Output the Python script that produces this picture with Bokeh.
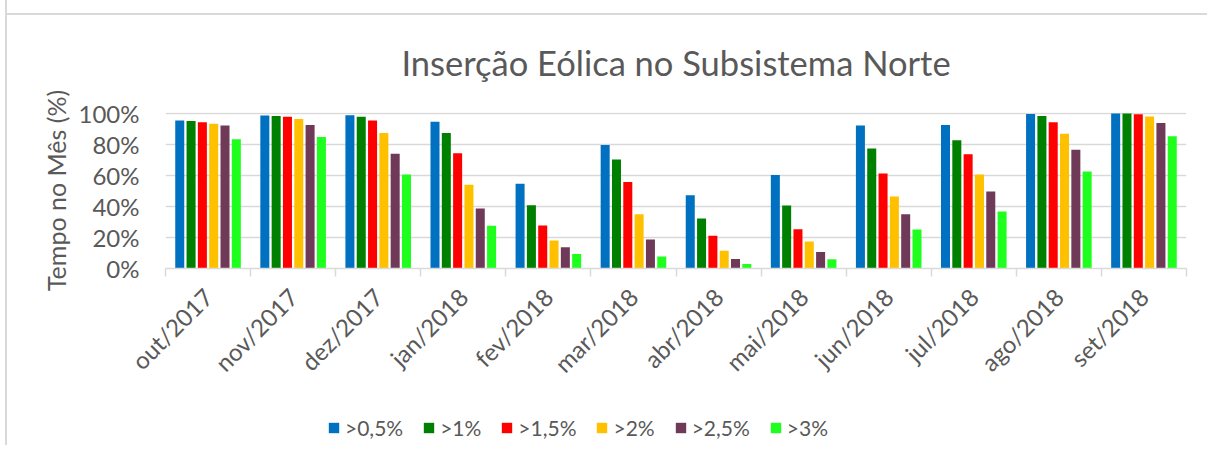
import numpy as np
from bokeh.plotting import figure
from bokeh.layouts import column
from bokeh.models import (ColumnDataSource, FixedTicker, NumeralTickFormatter,
                          Legend, LegendItem, Range1d)
from bokeh.transform import dodge
from bokeh.embed import file_html
from bokeh.resources import INLINE

months = ["out/2017", "nov/2017", "dez/2017", "jan/2018", "fev/2018", "mar/2018",
          "abr/2018", "mai/2018", "jun/2018", "jul/2018", "ago/2018", "set/2018"]
series_names = [">0,5%", ">1%", ">1,5%", ">2%", ">2,5%", ">3%"]
s_05 = [95.3, 98.5, 98.7, 94.4, 54.6, 79.5, 47.1, 60.1, 92.1, 92.3, 99.4, 99.8]
s_10 = [94.9, 98.1, 97.7, 87.2, 40.7, 70.1, 32.2, 40.5, 77.2, 82.5, 98.1, 99.8]
s_15 = [94.2, 97.7, 95.3, 74.2, 27.7, 55.7, 21.1, 25.3, 61.2, 73.6, 94.1, 99.2]
s_20 = [93.2, 96.2, 87.2, 53.9, 18.1, 34.9, 11.5, 17.3, 46.3, 60.5, 86.8, 97.9]
s_25 = [92.1, 92.3, 73.8, 38.6, 13.6, 18.6, 6.1, 10.6, 34.9, 49.5, 76.5, 93.6]
s_30 = [83.2, 84.6, 60.5, 27.5, 9.3, 7.7, 2.9, 6.0, 25.1, 36.7, 62.4, 85.1]
colors = ["#0070C0", "#008000", "#FF0000", "#FFC000", "#6F3A58", "#1EFF1E"]

FONT = "Lato"
TXT = "#595959"
GRID = "#d9d9d9"

idx = np.arange(len(months))
data = {"x": idx}
keys = ["s05", "s10", "s15", "s20", "s25", "s30"]
for k, s in zip(keys, [s_05, s_10, s_15, s_20, s_25, s_30]):
    data[k] = np.array(s) / 100.0
src = ColumnDataSource(data)

p = figure(width=1200, height=395, output_backend="svg", toolbar_location=None,
           x_range=Range1d(-0.5, len(months) - 0.5), y_range=Range1d(0, 1.004),
           min_border_left=158, min_border_right=21, min_border_top=112,
           min_border_bottom=127, title="Inserção Eólica no Subsistema Norte")
p.outline_line_color = None
p.border_fill_color = None
p.background_fill_color = "white"
p.title.align = "center"
p.title.text_font = FONT
p.title.text_font_size = "34.5px"
p.title.text_font_style = "normal"
p.title.text_color = TXT
p.title.standoff = 60

step = 0.133
bw = 0.106
renderers = []
for j, k in enumerate(keys):
    r = p.vbar(x=dodge("x", (j - 2.5) * step, range=p.x_range), top=k, width=bw,
               source=src, fill_color=colors[j], line_color=None)
    renderers.append(r)

# axes
xa = p.xaxis[0]
xa.ticker = FixedTicker(ticks=list(idx), minor_ticks=list(np.arange(len(months) + 1) - 0.5))
xa.major_label_overrides = {int(i): m for i, m in zip(idx, months)}
xa.major_label_orientation = np.pi / 4
xa.major_tick_out = 0
xa.major_tick_in = 0
xa.minor_tick_out = 8
xa.minor_tick_in = 0
xa.minor_tick_line_color = GRID
xa.minor_tick_line_width = 1.5
xa.axis_line_color = GRID
xa.axis_line_width = 1.5
xa.major_label_text_font = FONT
xa.major_label_text_font_size = "24px"
xa.major_label_text_color = TXT
xa.major_label_standoff = 16

ya = p.yaxis[0]
ya.ticker = FixedTicker(ticks=[0, 0.2, 0.4, 0.6, 0.8, 1.0])
ya.formatter = NumeralTickFormatter(format="0%")
ya.axis_line_color = None
ya.major_tick_line_color = None
ya.minor_tick_line_color = None
ya.major_label_text_font = FONT
ya.major_label_text_font_size = "24px"
ya.major_label_text_color = TXT
ya.major_label_standoff = 20
ya.axis_label = "Tempo no Mês (%)"
ya.axis_label_text_font = FONT
ya.axis_label_text_font_size = "25px"
ya.axis_label_text_font_style = "normal"
ya.axis_label_text_color = TXT
ya.axis_label_standoff = 5

p.xgrid.visible = False
p.ygrid.grid_line_color = GRID
p.ygrid.grid_line_width = 1.5
p.ygrid.ticker = FixedTicker(ticks=[0.2, 0.4, 0.6, 0.8, 1.0])

# legend strip (separate figure so the legend is not clipped); its y range
# lies above the data so the proxy bars stay out of view
pl = figure(width=1200, height=50, output_backend="svg", toolbar_location=None,
            x_range=Range1d(-0.5, len(months) - 0.5), y_range=Range1d(5, 6),
            min_border=0)
pl.axis.visible = False
pl.grid.visible = False
pl.outline_line_color = None
pl.border_fill_color = None
legend_renderers = []
for j, k in enumerate(keys):
    legend_renderers.append(pl.vbar(x="x", top=k, width=bw, source=src,
                                    fill_color=colors[j], line_color=None))

legend = Legend(items=[LegendItem(label=n, renderers=[r]) for n, r in zip(series_names, legend_renderers)],
                orientation="horizontal", location=(162, 5))
legend.border_line_color = None
legend.background_fill_alpha = 0
legend.label_text_font = FONT
legend.label_text_font_size = "21px"
legend.label_text_color = TXT
legend.glyph_width = 13
legend.glyph_height = 13
legend.label_standoff = 5
legend.spacing = 19
legend.padding = 0
legend.margin = 0
pl.add_layout(legend, "center")

layout = column(p, pl)
layout.styles = {"border-left": "2px solid #d9d9d9", "margin-left": "5px",
                 "background": "linear-gradient(#d9d9d9, #d9d9d9) 0 13px / 100% 2px no-repeat"}

open("out.html", "w").write(file_html(layout, INLINE))
